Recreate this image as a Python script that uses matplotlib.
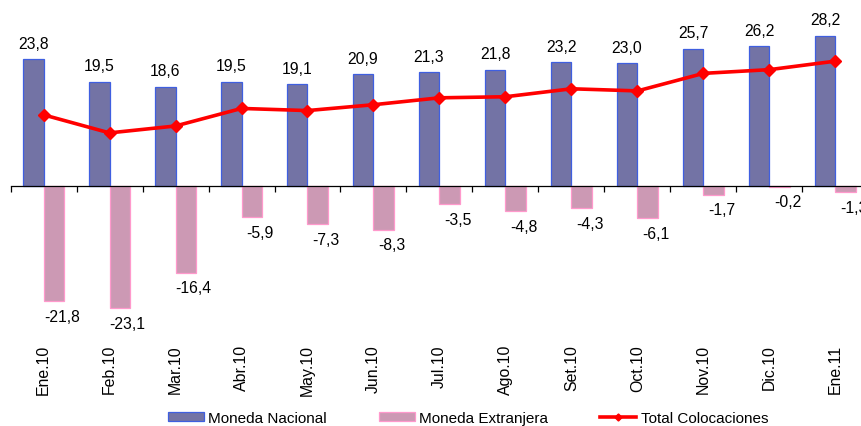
import matplotlib
matplotlib.use("Agg")
import matplotlib.pyplot as plt
from matplotlib.transforms import blended_transform_factory

plt.rcParams['font.family'] = ['Liberation Sans', 'DejaVu Sans']

meses = ["Ene.10", "Feb.10", "Mar.10", "Abr.10", "May.10", "Jun.10", "Jul.10",
         "Ago.10", "Set.10", "Oct.10", "Nov.10", "Dic.10", "Ene.11"]
moneda_nacional = [23.8, 19.5, 18.6, 19.5, 19.1, 20.9, 21.3, 21.8, 23.2, 23.0, 25.7, 26.2, 28.2]
moneda_extranjera = [-21.8, -23.1, -16.4, -5.9, -7.3, -8.3, -3.5, -4.8, -4.3, -6.1, -1.7, -0.2, -1.3]
total_colocaciones = [13.3, 9.9, 11.2, 14.5, 14.1, 15.2, 16.5, 16.7, 18.2, 17.8, 21.1, 21.8, 23.4]

def fmt(v):
    return f"{v:.1f}".replace(".", ",")

fig = plt.figure(figsize=(8.61, 4.27), dpi=100)
ax = fig.add_axes([0.0122, 0.2037, 0.9965, 0.7963])

x = list(range(len(meses)))
w = 0.318
b1 = ax.bar([i - w / 2 for i in x], moneda_nacional, width=w, color="#7373A5",
            edgecolor="#3F5FE0", linewidth=0.9, label="Moneda Nacional", zorder=2)
b2 = ax.bar([i + w / 2 for i in x], moneda_extranjera, width=w, color="#CC99B4",
            edgecolor="#FF99CC", linewidth=0.9, label="Moneda Extranjera", zorder=2)
ax.plot(x, total_colocaciones, color="#FF0000", lw=2.6, marker="D", ms=6.5,
        label="Total Colocaciones", zorder=3)

# etiquetas de valor sobre / bajo cada barra
for i, v in enumerate(moneda_nacional):
    ax.annotate(fmt(v), (i - w / 2, v), xytext=(0, 11.5), textcoords="offset points",
                ha="center", va="center", fontsize=11.3)
for i, v in enumerate(moneda_extranjera):
    ax.annotate(fmt(v), (i + w / 2, v), xytext=(5.5, -11), textcoords="offset points",
                ha="center", va="center", fontsize=11.3)

ax.set_xlim(-0.5, len(meses) - 0.5)
ax.set_ylim(-28.88, 35.09)

for s in ["top", "right", "left"]:
    ax.spines[s].set_visible(False)
ax.spines["bottom"].set_position(("data", 0))
ax.spines["bottom"].set_linewidth(0.9)
ax.set_yticks([])
ax.set_xticks([i - 0.5 for i in range(len(meses) + 1)])
ax.set_xticklabels([])
ax.tick_params(axis="x", direction="out", length=4, width=0.9)

# nombres de los meses al pie del grafico
trans = blended_transform_factory(ax.transData, ax.transAxes)
for i, m in enumerate(meses):
    ax.text(i, -0.015, m, transform=trans, rotation=90, ha="center", va="top",
            fontsize=11.4)

fig.legend(handles=[b1, b2, ax.lines[0]], loc="center", bbox_to_anchor=(0.5436, 0.019),
           ncol=3, frameon=False, fontsize=11, handlelength=2.36, handleheight=0.55,
           handletextpad=0.3, columnspacing=3.4, markerscale=0.55)

fig.savefig("out.png", dpi=100)
